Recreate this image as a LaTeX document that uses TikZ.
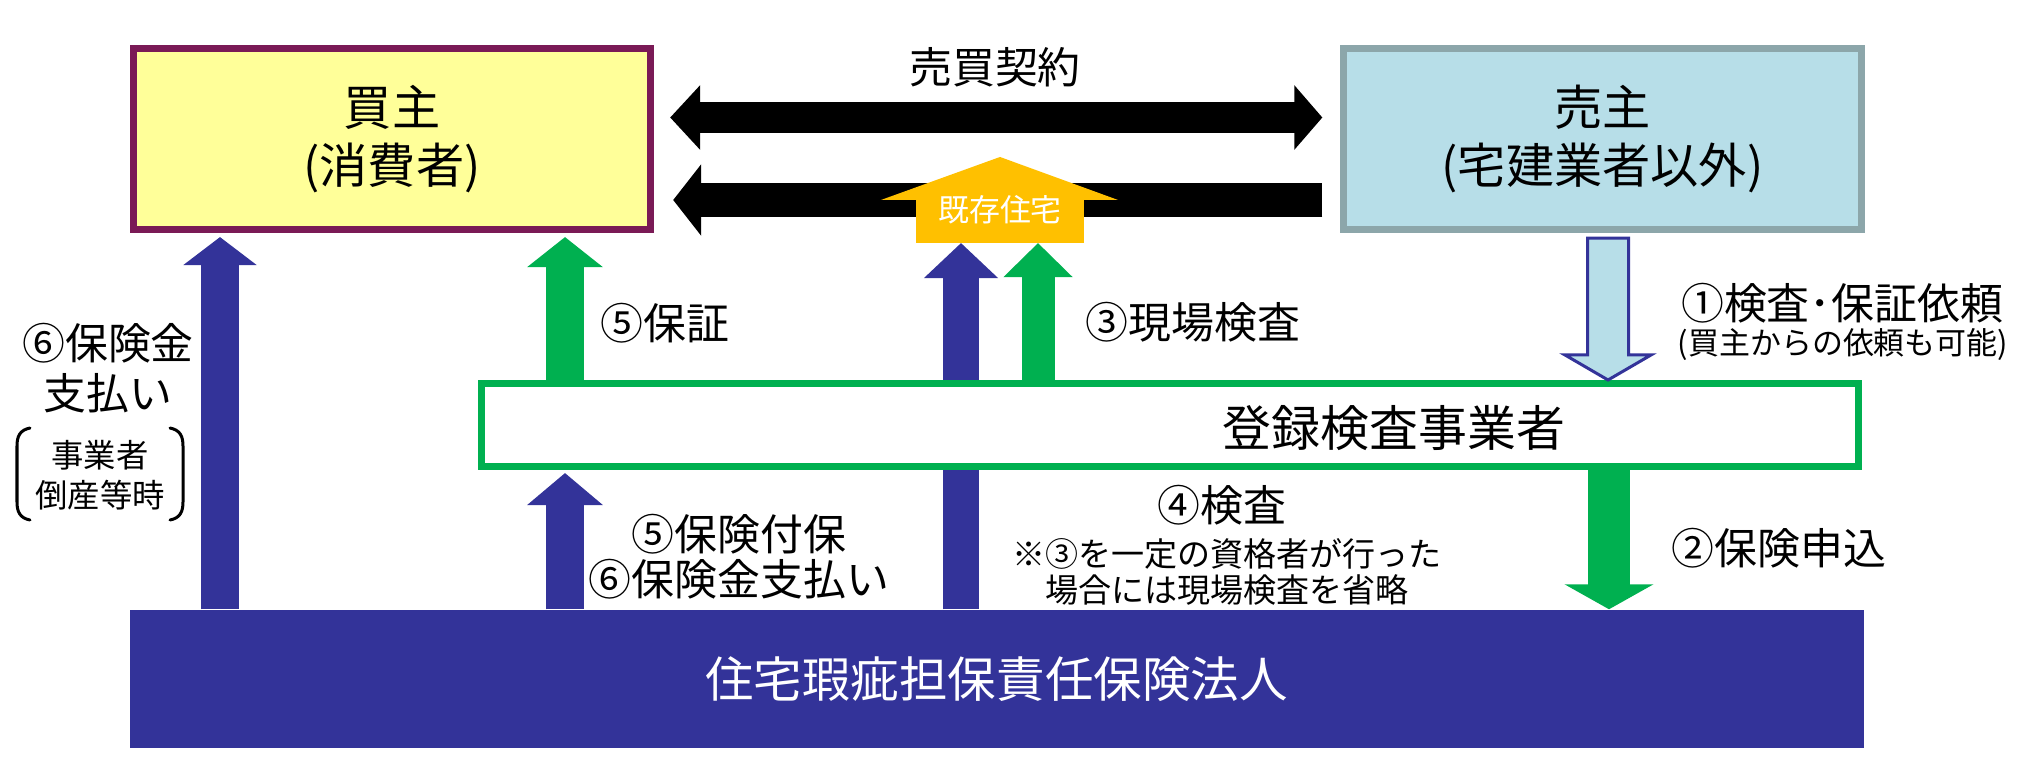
\documentclass[tikz,border=0pt]{standalone}
\usepackage{fontspec}
\setmainfont{Noto Sans CJK JP}
\usetikzlibrary{arrows.meta}
\definecolor{bpurple}{RGB}{122,26,86}
\definecolor{byellow}{RGB}{255,255,153}
\definecolor{scyan}{RGB}{183,222,232}
\definecolor{sgray}{RGB}{140,166,170}
\definecolor{mgreen}{RGB}{0,176,80}
\definecolor{dblue}{RGB}{51,51,153}
\definecolor{horange}{RGB}{255,192,0}
\pgfdeclarelayer{bg}
\pgfsetlayers{bg,main}
\begin{document}
\begin{tikzpicture}[x=0.01cm,y=-0.01cm,
  lbl/.style={font=\fontsize{12.2}{14.6}\selectfont, inner sep=0, align=center},
  bigtxt/.style={font=\fontsize{13.7}{16.5}\selectfont},
  partybox/.style={draw, line width=0.07cm, minimum width=5.17cm, minimum height=1.81cm, inner sep=0, align=center, bigtxt},
  buyerbox/.style={partybox, draw=bpurple, fill=byellow},
  sellerbox/.style={partybox, draw=sgray, fill=scyan},
  regbox/.style={draw=mgreen, fill=white, line width=0.07cm, minimum width=13.77cm, minimum height=0.83cm, inner sep=0},
  insbox/.style={fill=dblue, minimum width=17.33cm, minimum height=1.38cm, inner sep=0, text=white, font=\fontsize{13.8}{16}\selectfont},
  blackarr/.style={draw=black},
  bluearr/.style={draw=dblue},
  greenarr/.style={draw=mgreen},
  hollowarr/.style={draw=dblue, fill=scyan, line width=0.03cm},
  brk/.style={line width=0.03cm, line cap=round}
]
\useasboundingbox (0,0) rectangle (2037,781);

% main boxes
\node[buyerbox] (buyer) at (392,139) {買主\\(消費者)};
\node[sellerbox] (seller) at (1602.5,139) {売主\\(宅建業者以外)};
\node[regbox] (reg) at (1170,425) {};
\node[bigtxt, font=\fontsize{13.9}{16}\selectfont, inner sep=0] (regtxt) at (1394,428) {登録検査事業者};
\node[insbox] (ins) at (996.5,679) {住宅瑕疵担保責任保険法人};

% house
\node[fill=horange, minimum width=1.68cm, minimum height=0.43cm, inner sep=0, outer sep=0] (house) at (1000,221.5) {};
\fill[horange] ([xshift=-0.35cm]house.north west) -- ([yshift=0.43cm]house.north) -- ([xshift=0.34cm]house.north east) -- cycle;
\node[text=white, font=\fontsize{8.8}{10}\selectfont, inner sep=0] (htxt) at (1000,210) {既存住宅};

\begin{pgfonlayer}{bg}
% black arrows
\draw[blackarr, line width=0.31cm, {Triangle[width=0.63cm,length=0.30cm]}-{Triangle[width=0.63cm,length=0.28cm]}, shorten <=0.16cm, shorten >=0.18cm] (buyer.east |- 0,117.5) -- (seller.west |- 0,117.5);
\draw[blackarr, line width=0.34cm, -{Triangle[width=0.70cm,length=0.28cm]}, shorten <=0.18cm, shorten >=0.19cm] (seller.west |- 0,200) -- (buyer.east |- 0,200);
% blue arrows
\draw[bluearr, line width=0.37cm, -{Triangle[width=0.72cm,length=0.28cm]}, shorten >=0.04cm] (ins.north -| 220,0) -- (buyer.south -| 220,0);
\draw[bluearr, line width=0.37cm, -{Triangle[width=0.74cm,length=0.32cm]}, shorten >=0.03cm] (ins.north -| 565,0) -- (reg.south -| 565,0);
\draw[bluearr, line width=0.36cm, -{Triangle[width=0.72cm,length=0.35cm]}] (ins.north -| 961,0) -- (house.south -| 961,0);
\end{pgfonlayer}

% green arrows
\draw[greenarr, line width=0.37cm, -{Triangle[width=0.74cm,length=0.30cm]}, shorten >=0.04cm] (reg.north -| 565,0) -- (buyer.south -| 565,0);
\draw[greenarr, line width=0.33cm, -{Triangle[width=0.67cm,length=0.34cm]}] (reg.north -| 1038,0) -- (house.south -| 1038,0);
\draw[greenarr, line width=0.42cm, -{Triangle[width=0.88cm,length=0.25cm]}] (reg.south -| 1609,0) -- (ins.north -| 1609,0);

% hollow arrow 1
\coordinate (h1) at (seller.south -| 1608,0);
\coordinate (h2) at (reg.north -| 1608,0);
\draw[hollowarr] ([shift={(-20.5,5)}]h1) -- ([shift={(20.5,5)}]h1) -- ([shift={(20.5,-25)}]h2) -- ([shift={(43,-25)}]h2) -- (h2) -- ([shift={(-43,-25)}]h2) -- ([shift={(-20.5,-25)}]h2) -- cycle;

% labels
\node[lbl] (l0) at (995,67) {売買契約};
\node[lbl, anchor=west] (l5a) at (600,323) {⑤保証};
\node[lbl, anchor=west] (l3) at (1085,322) {③現場検査};
\node[lbl] (l1) at (1842,303) {①検査･保証依頼};
\node[lbl, font=\fontsize{8.8}{10}\selectfont] (l1b) at (1843,345) {(買主からの依頼も可能)};
\node[lbl, font=\fontsize{12.2}{14.2}\selectfont] (l6) at (108,368) {⑥保険金\\支払い};
\node[lbl, font=\fontsize{9.2}{11.4}\selectfont] (l6b) at (100,475) {事業者\\倒産等時};
\node[lbl, font=\fontsize{12.2}{12.8}\selectfont] (l5b) at (739,557) {⑤保険付保\\⑥保険金支払い};
\node[lbl] (l4) at (1222,505) {④検査};
\node[lbl, font=\fontsize{9.4}{10}\selectfont] (l4b) at (1227,572) {※③を一定の資格者が行った\\場合には現場検査を省略};
\node[lbl, anchor=west] (l2) at (1671,548) {②保険申込};

% brackets
\draw[brk] (30,428) .. controls (20,430) and (17,436) .. (17,446) -- (17,502) .. controls (17,512) and (20,518) .. (30,520);
\draw[brk] (170,428) .. controls (180,430) and (183,436) .. (183,446) -- (183,502) .. controls (183,512) and (180,518) .. (170,520);
\end{tikzpicture}
\end{document}
